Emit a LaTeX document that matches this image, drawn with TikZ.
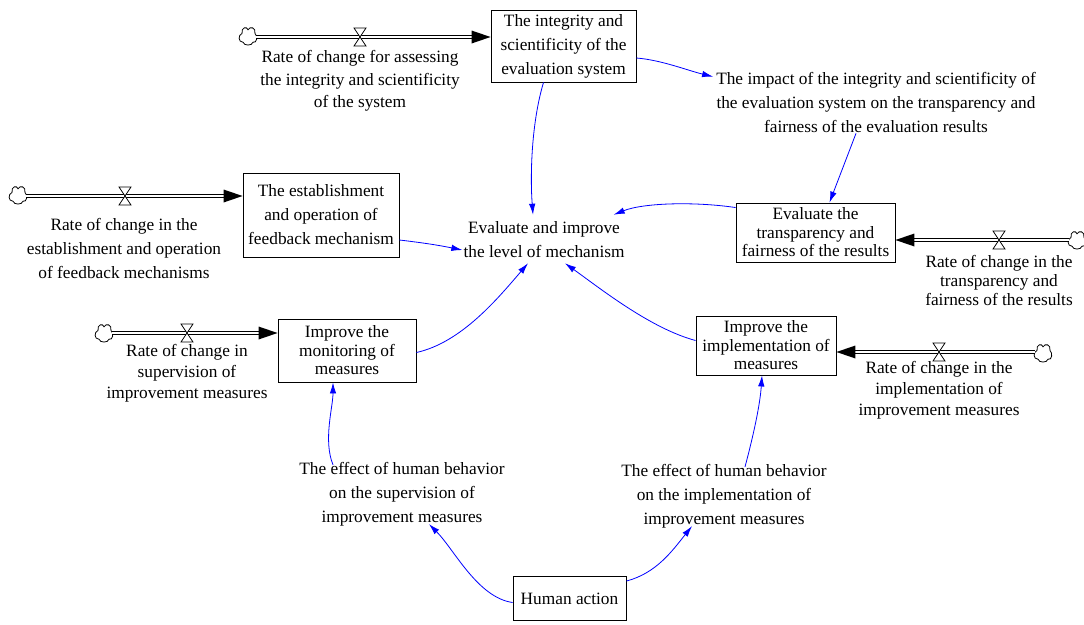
\documentclass[tikz,border=0pt]{standalone}
\usepackage{fontspec}
\setmainfont{Liberation Serif}
\usetikzlibrary{arrows.meta}

% text sizes: normal and tight line spacing
\newcommand\fa{\fontsize{17.3}{24}\selectfont}
\newcommand\fb{\fontsize{17.3}{18.5}\selectfont}
\newcommand\fc{\fontsize{17.3}{21}\selectfont}

\tikzset{
  stock/.style={draw, line width=0.9pt, align=center, inner sep=0pt, font=\fa},
  lbl/.style={align=center, inner sep=1pt, font=\fa},
  ratelbl/.style={align=center, inner sep=1pt, font=\fc},
  link/.style={draw={rgb,255:red,0;green,0;blue,255}, line width=0.8pt,
               -{Latex[length=11pt,width=6.5pt]}},
  pipe/.style={draw=black, double=white, double distance=2.2pt, line width=1pt},
  source/.style={circle, minimum size=16pt, inner sep=0pt},
  puff/.pic={\filldraw[fill=white, line width=0.8pt, yscale=1.25]
     (-5,5) .. controls (-10,5) and (-10,-1) .. (-6,-2)
            .. controls (-7,-7) and (-1,-8) .. (0,-5)
            .. controls (2,-8) and (8,-7) .. (7,-2)
            .. controls (10,0) and (9,6) .. (5,5)
            .. controls (4,8) and (-4,8) .. (-5,5) -- cycle;},
  valve/.pic={\filldraw[fill=white, line width=0.8pt]
                (-6,-9) -- (6,-9) -- (-6,9) -- (6,9) -- cycle;}
}

\begin{document}
\begin{tikzpicture}[x=1pt,y=-1pt]
\useasboundingbox[fill=white] (0,0) rectangle (1084,624);

% ---- stocks ----
\node[stock, minimum width=145pt, minimum height=72pt] (b1) at (563.5,46)
  {The integrity and\\scientificity of the\\evaluation system};
\node[stock, minimum width=156pt, minimum height=84pt] (b2) at (321,215)
  {The establishment\\and operation of\\feedback mechanism};
\node[stock, minimum width=159pt, minimum height=59pt, font=\fb] (b3) at (815.5,232.5)
  {Evaluate the\\transparency and\\fairness of the results};
\node[stock, minimum width=138pt, minimum height=63pt, font=\fb] (b4) at (347,350.5)
  {Improve the\\monitoring of\\measures};
\node[stock, minimum width=140pt, minimum height=59pt, font=\fb] (b5) at (766,345.5)
  {Improve the\\implementation of\\measures};
\node[stock, minimum width=113pt, minimum height=44pt] (b6) at (569.5,598.5)
  {Human action};

% ---- auxiliary variables ----
\node[lbl] (imp) at (876,102)
  {The impact of the integrity and scientificity of\\the evaluation system on the transparency and\\fairness of the evaluation results};
\node[lbl] (ev) at (544,240) {Evaluate and improve\\the level of mechanism};
\node[lbl] (e1) at (402,494) {The effect of human behavior\\on the supervision of\\improvement measures};
\node[lbl] (e2) at (724,496) {The effect of human behavior\\on the implementation of\\improvement measures};

% ---- sources ----
\node[source] (c1) at (248,36) {};
\node[source] (c2) at (18,195) {};
\node[source] (c3) at (1077,240) {};
\node[source] (c4) at (104,333) {};
\node[source] (c5) at (1043,353) {};
\foreach \c in {c1,c2,c3,c4,c5} \pic at (\c) {puff};

% ---- flows ----
\coordinate (t1) at ([yshift=-1pt]c1 -| b1.west);
\coordinate (t2) at ([yshift=-1pt]c2 -| b2.west);
\coordinate (t3) at (c3 -| b3.east);
\coordinate (t4) at (c4 -| b4.west);
\coordinate (t5) at ([yshift=1pt]c5 -| b5.east);

\draw[pipe, shorten >=18pt] (c1.east |- t1) -- (t1);
\draw[pipe, shorten >=18pt] (c2.east |- t2) -- (t2);
\draw[pipe, shorten >=18pt] (c3.west) -- (t3);
\draw[pipe, shorten >=18pt] (c4.east) -- (t4);
\draw[pipe, shorten >=18pt] (c5.west |- t5) -- (t5);

\fill (t1) -- ++(-19,-6.5) -- ++(0,13) -- cycle;
\fill (t2) -- ++(-19,-6.5) -- ++(0,13) -- cycle;
\fill (t3) -- ++(19,-6.5) -- ++(0,13) -- cycle;
\fill (t4) -- ++(-19,-6.5) -- ++(0,13) -- cycle;
\fill (t5) -- ++(19,-6.5) -- ++(0,13) -- cycle;

\coordinate (v1) at (360,37);
\coordinate (v2) at (125,196);
\coordinate (v3) at (999,240);
\coordinate (v4) at (187,333);
\coordinate (v5) at (939,352);
\foreach \v in {v1,v2,v3,v4,v5} \pic at (\v) {valve};

\node[ratelbl, font=\fontsize{17.3}{22.5}\selectfont] (r1) at (360,81)
  {Rate of change for assessing\\the integrity and scientificity\\of the system};
\node[ratelbl, font=\fa] (r2) at (124,248)
  {Rate of change in the\\establishment and operation\\of feedback mechanisms};
\node[ratelbl, font=\fontsize{17.3}{19}\selectfont] (r3) at (999,280)
  {Rate of change in the\\transparency and\\fairness of the results};
\node[ratelbl] (r4) at (187,373)
  {Rate of change in\\supervision of\\improvement measures};
\node[ratelbl] (r5) at (939,390)
  {Rate of change in the\\implementation of\\improvement measures};

% ---- causal links ----
\draw[link] ([yshift=-12pt]b1.east) .. controls +(25,2) and +(-25,-6) .. ([xshift=-2pt,yshift=-6pt]imp.north west);
\draw[link] ([xshift=-20pt]imp.south) -- ([xshift=14pt]b3.north);
\draw[link] ([yshift=-5pt]b3.north west) .. controls +(-40,-6) and +(30,-12) .. ([xshift=-12pt,yshift=6pt]ev.north east);
\draw[link] ([xshift=-20pt]b1.south) .. controls +(-12,40) and +(-3,-40) .. ([xshift=-11pt,yshift=6pt]ev.north);
\draw[link] ([yshift=-25pt]b2.east) .. controls +(25,3) and +(-25,-5) .. ([yshift=-10pt]ev.west);
\draw[link] ([yshift=-2pt]b4.east) .. controls +(45,-10) and +(-30,35) .. ([xshift=-16pt,yshift=-4pt]ev.south);
\draw[link] ([yshift=5pt]b5.west) .. controls +(-45,-12) and +(35,25) .. ([xshift=21pt,yshift=-4pt]ev.south);
\draw[link] ([xshift=-69pt,yshift=-4pt]e1.north) .. controls +(-10,-25) and +(0,25) .. ([xshift=-14pt]b4.south);
\draw[link] ([xshift=21pt,yshift=-4pt]e2.north) .. controls +(8,-30) and +(-2,30) .. ([xshift=-4pt]b5.south);
\draw[link] ([yshift=-4pt]b6.west) .. controls +(-35,-5) and +(25,25) .. ([xshift=27pt,yshift=3pt]e1.south);
\draw[link] ([yshift=-5pt]b6.north east) .. controls +(30,-8) and +(-20,25) .. ([xshift=-32pt,yshift=3pt]e2.south);
\end{tikzpicture}
\end{document}
